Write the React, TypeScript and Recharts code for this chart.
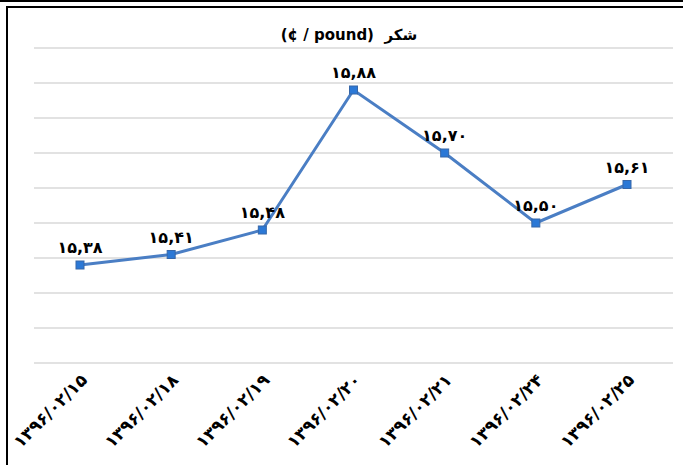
import { CartesianGrid, LabelList, Line, LineChart, XAxis, YAxis } from "recharts";

// Sugar price, cents per pound
const dates = [
  "۱۳۹۶/۰۲/۱۵",
  "۱۳۹۶/۰۲/۱۸",
  "۱۳۹۶/۰۲/۱۹",
  "۱۳۹۶/۰۲/۲۰",
  "۱۳۹۶/۰۲/۲۱",
  "۱۳۹۶/۰۲/۲۴",
  "۱۳۹۶/۰۲/۲۵",
];
const prices = [15.38, 15.41, 15.48, 15.88, 15.7, 15.5, 15.61];
const yTicks = [15.1, 15.2, 15.3, 15.4, 15.5, 15.6, 15.7, 15.8, 15.9, 16.0];

const data = dates.map((d, i) => ({ date: d, price: prices[i] }));

const FA = "۰۱۲۳۴۵۶۷۸۹";
const toFa = (v: number) =>
  v
    .toFixed(2)
    .replace(".", ",")
    .replace(/\d/g, (c) => FA[Number(c)]);

const FONT = "'DejaVu Sans', Arial, sans-serif";
const LINE = "#4A7EC4";

function SquareDot({ cx, cy }: any) {
  if (cx == null || cy == null) return null;
  return <rect x={cx - 4} y={cy - 4} width={8} height={8} fill="#2B78D6" stroke="#3767A8" strokeWidth={1} />;
}

function DateTick({ x, y, payload }: any) {
  const tx = x + 4;
  const ty = y + 6;
  return (
    <text
      x={tx}
      y={ty}
      transform={`rotate(-45, ${tx}, ${ty})`}
      textAnchor="end"
      dominantBaseline="central"
      fontFamily={FONT}
      fontWeight={700}
      fontSize={17}
      fill="#000"
    >
      {payload.value}
    </text>
  );
}

export default function App() {
  return (
    <div style={{ position: "absolute", left: 0, top: 0, width: 683, height: 465, background: "#fff", overflow: "hidden" }}>
      <div style={{ position: "absolute", left: 0, top: 0, width: 683, height: 2, background: "#000" }} />
      <div
        style={{
          position: "absolute",
          left: 6,
          top: 6,
          width: 690,
          height: 470,
          borderTop: "2px solid #000",
          borderLeft: "2px solid #000",
        }}
      />
      <div
        style={{
          position: "absolute",
          left: 0,
          top: 26,
          width: 698,
          textAlign: "center",
          fontFamily: FONT,
          fontWeight: 700,
          fontSize: 15,
          color: "#000",
          whiteSpace: "pre",
        }}
      >
        {"(¢ / pound)  شکر"}
      </div>
      <LineChart
        width={683}
        height={465}
        data={data}
        margin={{ top: 48, right: 10, left: 34, bottom: 0 }}
        style={{ position: "absolute", left: 0, top: 0 }}
      >
        <CartesianGrid horizontal vertical={false} stroke="#D9D9D9" strokeWidth={1.5} />
        <XAxis
          dataKey="date"
          axisLine={false}
          tickLine={false}
          height={102}
          interval={0}
          padding={{ left: 46, right: 46 }}
          tick={<DateTick />}
        />
        <YAxis hide domain={[15.1, 16.0]} ticks={yTicks} />
        <Line
          type="linear"
          dataKey="price"
          stroke={LINE}
          strokeWidth={3}
          dot={<SquareDot />}
          activeDot={false}
          isAnimationActive={false}
        >
          <LabelList
            dataKey="price"
            position="top"
            offset={12}
            formatter={(v: any) => toFa(Number(v))}
            style={{ fontFamily: FONT, fontWeight: 700, fontSize: 16, fill: "#000" }}
          />
        </Line>
      </LineChart>
    </div>
  );
}
